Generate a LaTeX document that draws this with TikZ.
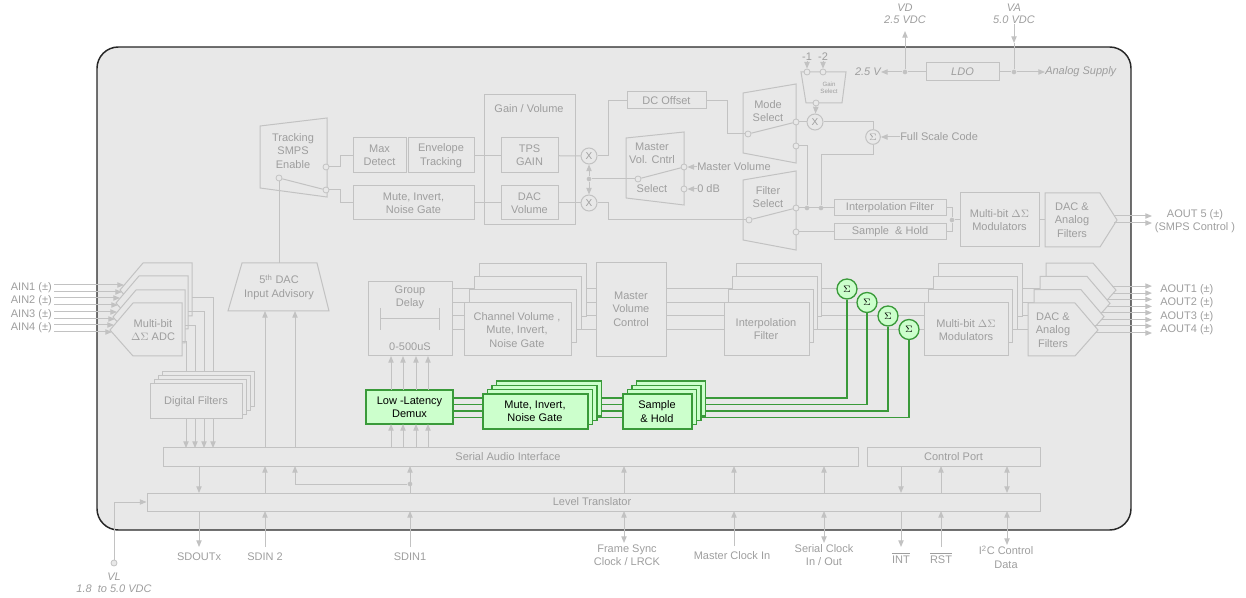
\documentclass[tikz,border=0pt]{standalone}
\usepackage{fontspec}
\setmainfont{Liberation Sans}
\usetikzlibrary{arrows.meta,fit,calc}
\definecolor{chipbg}{HTML}{E8E8E8}
\definecolor{lncol}{HTML}{C2C2C2}
\definecolor{txcol}{HTML}{9E9E9E}
\definecolor{gfill}{HTML}{CCFFCC}
\definecolor{gline}{HTML}{3A9A3A}
\tikzset{
 lnk/.style={draw=lncol, line width=0.75pt},
 arr/.style={lnk, -{Triangle[length=5pt,width=4pt]}},
 darr/.style={lnk, {Triangle[length=5pt,width=4pt]}-{Triangle[length=5pt,width=4pt]}},
 shp/.style={draw=lncol, fill=chipbg, line width=0.75pt},
 box/.style={shp, inner sep=0pt},
 txt/.style={text=txcol, align=center, inner sep=0pt},
 it/.style={font=\fontsize{8.25}{9}\selectfont\itshape},
 gbox/.style={draw=gline, fill=gfill, line width=1pt},
 gtxt/.style={text=black, align=center, inner sep=0pt},
 gl/.style={draw=gline, line width=1.1pt},
 pinc/.style={circle, draw=lncol, fill=chipbg, line width=0.6pt, inner sep=0pt, minimum size=4.5pt},
 dotc/.style={circle, fill=lncol, inner sep=0pt, minimum size=3.5pt},
 multc/.style={circle, draw=lncol, fill=chipbg, line width=0.75pt, inner sep=0pt, minimum size=12pt, text=txcol, font=\fontsize{7.5}{8}\selectfont},
 sumc/.style={circle, draw=lncol, fill=chipbg, line width=0.75pt, inner sep=0pt, minimum size=11pt, text=txcol, font=\fontsize{7}{8}\selectfont},
 sumg/.style={circle, draw=gline, fill=gfill, line width=1pt, inner sep=0pt, minimum size=15pt, font=\fontsize{7.5}{8}\selectfont},
}
\begin{document}
\begin{tikzpicture}[x=0.75pt,y=-0.75pt,font=\fontsize{8.25}{10}\selectfont]
\useasboundingbox (0,0) rectangle (1246,598);
\draw[draw=black!85, fill=chipbg, line width=1.1pt, rounded corners=16pt] (97,47) rectangle (1131,530);

% ---------- power
\node[box, fit={(926,63)(999,81)}] (ldo) {};
\node[txt, it] (ldot) at (ldo) {LDO};
\node[dotc] (vdd) at (905,72) {};
\node[dotc] (vad) at (1014,72) {};
\node[txt, it] (vdlab) at (905,14) {VD\\2.5 VDC};
\node[txt, it] (valab) at (1014,14) {VA\\5.0 VDC};
\draw[lnk] (ldo) -- (vdd);
\draw[lnk] (ldo) -- (vad);
\coordinate (vdtop) at (905,31);
\draw[arr] (vdd) -- (vdtop);
\node[txt, it, anchor=east] (v25) at (881,72) {2.5 V};
\draw[arr] (vdd) -- (v25.east);
\node[txt, it, anchor=west] (asup) at (1045,72) {Analog Supply};
\draw[arr] (vad) -- (asup.west);
\coordinate (vamid) at (1014,43);
\draw[arr] (valab.south) -- (vamid);
\draw[lnk] (vamid) -- (vad);

% ---------- upper chain
\node[box, fit={(484,95)(575,225)}] (gvbox) {};
\node[txt] (gvlab) at (529,109) {Gain / Volume};

\draw[shp] (260,126) -- (327,118) -- (327,197) -- (260,188) -- cycle;
\node[txt] (trk) at (293,151) {Tracking\\SMPS\\Enable};
\node[pinc] (tsA) at (326,167) {};
\node[pinc] (tsB) at (326,190) {};
\node[pinc] (tsIn) at (279,178) {};
\draw[lnk] (tsIn) -- (tsB);

\node[box, fit={(353,138)(406,173)}] (maxd) {};
\node[txt] (maxdt) at (maxd) {Max\\Detect};
\node[box, fit={(408,138)(474,173)}] (envt) {};
\node[txt] (envtt) at (envt) {Envelope\\Tracking};
\node[box, fit={(501,138)(558,173)}] (tps) {};
\node[txt] (tpst) at (tps) {TPS\\GAIN};
\node[box, fit={(353,186)(474,220)}] (mute0) {};
\node[txt] (mute0t) at (mute0) {Mute, Invert,\\Noise Gate};
\node[box, fit={(501,186)(558,220)}] (dacv) {};
\node[txt] (dacvt) at (dacv) {DAC\\Volume};
\draw[lnk] (tsA) -- (340,167) |- (maxd.west);
\draw[lnk] (tsB) -- (340,190) |- (mute0.west);
\draw[lnk] (envt) -- (tps);
\draw[lnk] (mute0) -- (dacv);
\node[multc] (xa) at (589,156) {X};
\node[multc] (xb) at (589,203) {X};
\draw[lnk] (tps) -- (xa);
\draw[lnk] (dacv) -- (xb);
\node[dotc] (xd) at (589,179) {};
\draw[arr] (xd) -- (xa);
\draw[arr] (xd) -- (xb);

\node[box, fit={(627,92)(706,109)}] (dco) {};
\node[txt] (dcot) at (dco) {DC Offset};
\draw[lnk] (xa) -- (608,156) |- (dco.west);

\draw[shp] (626,138) -- (684,132) -- (684,205) -- (626,198) -- cycle;
\node[txt] (mvl) at (652,153) {Master\\Vol. Cntrl};
\node[txt] (mvs) at (652,189) {Select};
\node[pinc] (mvIn) at (638,179) {};
\node[pinc] (mvA) at (684,167) {};
\node[pinc] (mvB) at (684,189) {};
\draw[lnk] (mvIn) -- (mvA);
\draw[lnk] (xd) -- (mvIn);
\node[txt, anchor=west] (mvt) at (697,167) {Master Volume};
\node[txt, anchor=west] (zdb) at (697,189) {0 dB};
\draw[arr] (mvt.west) -- (mvA);
\draw[arr] (zdb.west) -- (mvB);

\draw[shp] (743,93) -- (796,84) -- (796,163) -- (743,153) -- cycle;
\node[txt] (msl) at (768,111) {Mode\\Select};
\node[pinc] (msIn) at (748,134) {};
\node[pinc] (msA) at (796,122) {};
\node[pinc] (msB) at (796,146) {};
\draw[lnk] (msIn) -- (msA);
\draw[lnk] (dco) -- (727,100.5) |- (msIn);

\draw[shp] (743,180) -- (796,171) -- (796,250) -- (743,240) -- cycle;
\node[txt] (fsl) at (768,197) {Filter\\Select};
\node[pinc] (fsIn) at (749,220) {};
\node[pinc] (fsA) at (796,208) {};
\node[pinc] (fsB) at (796,232) {};
\draw[lnk] (fsIn) -- (fsA);
\draw[lnk] (xb) -- (608,203) |- (fsIn);

\draw[shp] (801,72) -- (846,72) -- (842,103) -- (806,103) -- cycle;
\node[txt, font=\fontsize{4.6}{5.6}\selectfont] (gsl) at (829,88) {Gain\\Select};
\node[pinc] (gsA) at (807,72) {};
\node[pinc] (gsB) at (823,72) {};
\node[pinc] (gsO) at (816,103) {};
\node[txt] (m1) at (807,57) {-1};
\node[txt] (m2) at (823,57) {-2};
\draw[arr] (m1) -- (gsA);
\draw[arr] (m2) -- (gsB);
\node[multc] (xc) at (815,122) {X};
\draw[arr] (gsO) -- (xc);
\draw[lnk] (msA) -- (xc);
\node[sumc] (sg) at (873,137) {$\Sigma$};
\draw[lnk] (xc) -| (sg);
\node[txt, anchor=west] (fsc) at (900,137) {Full Scale Code};
\draw[arr] (fsc.west) -- (sg);
\node[dotc] (dA) at (807,208) {};
\node[dotc] (dB) at (821,208) {};
\draw[lnk] (sg) -- (873,155) -| (dB);
\draw[lnk] (msB) -| (dA);
\node[box, fit={(834,200)(946,216)}] (ifu) {};
\node[txt] (ifut) at (ifu) {Interpolation Filter};
\node[box, fit={(834,224)(946,240)}] (shu) {};
\node[txt] (shut) at (shu) {Sample \ \& Hold};
\draw[lnk] (fsA) -- (ifu);
\draw[lnk] (fsB) -- (shu);
\node[dotc] (dC) at (952,220) {};
\draw[lnk] (ifu) -| (dC);
\draw[lnk] (shu) -| (dC);
\node[box, fit={(960,193)(1039,247)}] (modu) {};
\node[txt] (modut) at (modu) {Multi-bit $\Delta\Sigma$\\Modulators};
\draw[lnk] (dC) -- (modu);
\draw[shp] (1045,193) -- (1100,193) -- (1117,220) -- (1100,247) -- (1045,247) -- cycle;
\node[txt] (dacu) at (1072,220) {DAC \&\\Analog\\Filters};
\draw[lnk] (modu) -- (1045,220);
\coordinate (ao5a) at (1152,216);
\coordinate (ao5b) at (1152,223);
\draw[arr] (1114,216) -- (ao5a);
\draw[arr] (1114,223) -- (ao5b);
\node[txt] (ao5) at (1195,221) {AOUT 5 (±)\\(SMPS Control )};

% ---------- lower signal chain
\foreach \yy in {289,302.5,316,329.5} \draw[lnk] (452,\yy) -- (1046,\yy);

\node[box, fit={(368,282)(452,356)}] (gdel) {};
\node[txt] (gdl) at (410,297) {Group\\Delay};
\draw[lnk] (380,319) -- (439,319) (380,308) -- (380,330) (439,308) -- (439,330);
\node[txt] (gdr) at (410,347) {0-500uS};

\foreach \k in {3,2,1,0} \draw[shp] (464+5*\k,303-13.3*\k) rectangle ++(107,53);
\node[txt] (chv) at (517,330) {Channel Volume ,\\Mute, Invert,\\Noise Gate};

\node[box, fit={(596,263)(666,357)}] (mvc) {};
\node[txt] (mvct) at (631,309) {Master\\Volume\\Control};

\foreach \k in {3,2,1,0} \draw[shp] (724+4.3*\k,303-13.3*\k) rectangle ++(85,53);
\node[txt] (ifl) at (766,329) {Interpolation\\Filter};

\foreach \k in {3,2,1,0} \draw[shp] (924+4.7*\k,303-13.3*\k) rectangle ++(84,53);
\node[txt] (modl) at (966,330) {Multi-bit $\Delta\Sigma$\\Modulators};

\foreach \k in {3,2,1,0} \draw[shp] (1028+6*\k,303-13.3*\k) -- ++(47,0) -- ++(23,27) -- ++(-23,26) -- ++(-47,0) -- cycle;
\node[txt] (dacl) at (1053,330) {DAC \&\\Analog\\Filters};

\foreach \k/\lab in {0/AOUT4,1/AOUT3,2/AOUT2,3/AOUT1} {
  \draw[arr] (1094+6*\k,326-13.3*\k) -- (1152,326-13.3*\k);
  \draw[arr] (1095+6*\k,333-13.3*\k) -- (1152,333-13.3*\k);
  \node[txt, anchor=west] (\lab) at (1160,329.5-13.3*\k) {\lab\ (±)};
}

% ADC
\foreach \dx/\dy in {10/-40,6/-27,3/-13,0/0} \draw[shp] (110+\dx,330+\dy) -- ++(23,-27) -- ++(49,0) -- ++(0,53) -- ++(-49,0) -- cycle;
\node[txt] (adcl) at (153,330) {Multi-bit\\$\Delta\Sigma$ ADC};
\foreach \dx/\dy/\lab in {0/0/AIN4,3/-13/AIN3,6/-27/AIN2,10/-40/AIN1} {
  \draw[arr] (54,325+\dy) -- (114+\dx,325+\dy);
  \draw[arr] (54,332+\dy) -- (112+\dx,332+\dy);
  \node[txt, anchor=east] (\lab) at (52,328+\dy) {\lab\ (±)};
}
\draw[lnk] (182,342) -- (186,342) -- (186,384);
\draw[lnk] (185,326) -- (195,326) -- (195,384);
\draw[lnk] (188,312) -- (204,312) -- (204,384);
\draw[lnk] (192,298) -- (213,298) -- (213,384);
\foreach \k in {3,2,1,0} \draw[shp] (150+4.3*\k,384-4.3*\k) rectangle ++(92,35);
\node[txt] (dfl) at (196,401.5) {Digital Filters};

\draw[shp] (242,263) -- (317,263) -- (329,311) -- (228,311) -- cycle;
\node[txt] (dac5) at (279,287) {5\textsuperscript{th} DAC\\Input Advisory};
\draw[lnk] (279,263) -- (tsIn);

\node[box, fit={(163,448)(858,466)}] (sai) {};
\node[txt] (sait) at (508,457) {Serial Audio Interface};
\node[box, fit={(867,448)(1040,466)}] (cport) {};
\node[txt] (cportt) at (cport) {Control Port};
\node[box, fit={(147,493)(1040,511)}] (lvl) {};
\node[txt] (lvlt) at (592,502) {Level Translator};

\foreach \xx in {186,195,204,213} \draw[arr] (\xx,419) -- (\xx,448);
\foreach \xx in {265,295} \draw[arr] (\xx,448) -- (\xx,311);

\node[gbox, fit={(366,390)(453,424)}, inner sep=0pt] (demux) {};
\node[gtxt] (demuxt) at (demux) {Low -Latency\\Demux};
\foreach \xx in {391,403,416,428} {
  \draw[arr] (\xx,448) -- (\xx,424);
  \draw[arr] (\xx,390) -- (\xx,356);
}
\foreach \sx/\sy/\q in {847/289/1,867/302.5/2,888/316/3,909/329.5/4}
  \node[sumg] (sig\q) at (\sx,\sy) {$\Sigma$};
\foreach \yy/\q in {398/1,404.5/2,411/3,417.5/4}
  \draw[gl] (453,\yy) -| (sig\q);
\foreach \k in {3,2,1,0} \draw[gbox] (483+4.5*\k,394-4.3*\k) rectangle ++(105,35);
\node[gtxt] (mute1) at (535,411.5) {Mute, Invert,\\Noise Gate};
\foreach \k in {3,2,1,0} \draw[gbox] (623+4.5*\k,394-4.3*\k) rectangle ++(69,35);
\node[gtxt] (shl) at (657,411.5) {Sample\\\& Hold};

% ---------- bottom I/O
\node[txt] (sdo) at (199,557) {SDOUTx};
\node[txt] (sdi2) at (265,557) {SDIN 2};
\node[txt] (sdi1) at (410,557) {SDIN1};
\node[txt] (fsy) at (627,555) {Frame Sync\\Clock / LRCK};
\node[txt] (mck) at (732,556) {Master Clock In};
\node[txt] (sck) at (824,555) {Serial Clock\\In / Out};
\node[txt] (intl) at (901,558) {$\overline{\mbox{INT}}$};
\node[txt] (rstl) at (941,558) {$\overline{\mbox{RST}}$};
\node[txt] (i2c) at (1006,557) {I\textsuperscript{2}C Control\\Data};

\draw[arr] (199,466) -- (199,493);
\draw[arr] (199,511) -- (199,547);
\draw[arr] (265,547) -- (265,511);
\draw[arr] (265,493) -- (265,466);
\draw[arr] (410,547) -- (410,511);
\draw[arr] (410,493) -- (410,466);
\node[dotc] (sdd) at (410,484) {};
\draw[arr] (sdd) -| (295,466);
\draw[arr] (624,493) -- (624,466);
\draw[darr] (624,511) -- (624,543);
\draw[arr] (734,493) -- (734,466);
\draw[arr] (734,546) -- (734,511);
\draw[arr] (824,493) -- (824,466);
\draw[darr] (824,511) -- (824,543);
\draw[arr] (901,466) -- (901,493);
\draw[arr] (901,511) -- (901,547);
\draw[arr] (941,493) -- (941,466);
\draw[arr] (941,547) -- (941,511);
\draw[darr] (1007,466) -- (1007,493);
\draw[darr] (1007,511) -- (1007,545);

\node[pinc] (vlc) at (114,563) {};
\draw[arr] (vlc) |- (lvl.west);
\node[txt, it] (vll) at (114,583) {VL\\1.8\ \ to 5.0 VDC};
\end{tikzpicture}
\end{document}
